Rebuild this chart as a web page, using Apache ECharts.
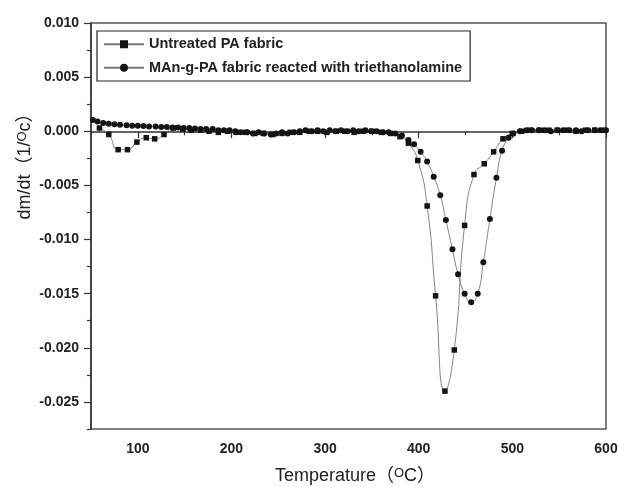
<!DOCTYPE html>
<html lang="en">
<head>
<meta charset="UTF-8">
<title>DTG curves</title>
<script src="https://cdn.jsdelivr.net/npm/echarts@6/dist/echarts.min.js"></script>
</head>
<body style="margin:0">
<div id="main" style="width:618px;height:487px;"></div>
<script>
// Untreated PA fabric (squares)
var untreatedT = [59, 69, 79, 89, 99, 109, 118, 128, 138, 148,
    157, 167, 176, 186, 196, 205, 215, 225, 234, 244,
    254, 263, 273, 283, 292, 302, 312, 321, 331, 341,
    350, 360, 370, 380, 389, 399, 409, 418, 428, 438,
    449, 459, 470, 480, 490, 500, 510, 519, 529, 539,
    548, 558, 568, 578, 588, 598];
var untreatedV = [0.0003, -0.0003, -0.0017, -0.0017, -0.0010, -0.0006, -0.0007, -0.0003, 0.0003, 0.0002,
    0.0001, 0.0001, 0.0000, -0.0001, 0.0000, -0.0001, -0.0001, -0.0002, -0.0002, -0.0003,
    -0.0002, -0.0001, -0.0001, 0.0000, 0.0000, -0.0001, 0.0000, 0.0000, -0.0001, 0.0000,
    0.0000, -0.0001, -0.0002, -0.0005, -0.0011, -0.0027, -0.0069, -0.0152, -0.0240, -0.0202,
    -0.0087, -0.0040, -0.0030, -0.0019, -0.0007, -0.0002, 0.0000, 0.0001, 0.0001, 0.0001,
    0.0001, 0.0001, 0.0000, 0.0001, 0.0001, 0.0001];

// MAn-g-PA fabric reacted with triethanolamine (circles)
var graftT = [52, 57, 63, 69, 75, 81, 88, 94, 100, 106,
    112, 119, 125, 131, 137, 143, 149, 155, 161, 167,
    173, 180, 186, 192, 198, 204, 210, 217, 223, 229,
    235, 242, 248, 254, 260, 267, 273, 279, 286, 292,
    298, 305, 311, 317, 324, 330, 336, 343, 349, 355,
    362, 368, 375, 382, 389, 395, 402, 409, 416, 423,
    429, 436, 442, 449, 456, 463, 469, 476, 483, 489,
    496, 501, 508, 515, 521, 528, 534, 541, 548, 554,
    561, 568, 574, 581, 588, 594, 600];
var graftV = [0.00105, 0.0009, 0.00076, 0.0007, 0.00064, 0.0006, 0.00055, 0.0005, 0.0005, 0.00048,
    0.00044, 0.00044, 0.0004, 0.0004, 0.00035, 0.00035, 0.0003, 0.0003, 0.00026, 0.0002,
    0.0002, 0.0002, 0.0001, 0.0001, 0.0001, 0.0000, -0.0001, -0.0001, -0.0002, -0.0001,
    -0.0002, -0.0003, -0.0002, -0.0001, -0.0002, -0.0001, 0.0000, 0.0001, 0.0000, 0.0001,
    0.0000, 0.0001, 0.0000, 0.0001, 0.0000, 0.0001, 0.0000, 0.0001, 0.0000, 0.0000,
    -0.0001, -0.0001, -0.0002, -0.0004, -0.0008, -0.0012, -0.0019, -0.0028, -0.0042, -0.0059,
    -0.0082, -0.0109, -0.0132, -0.0150, -0.0158, -0.0150, -0.0121, -0.0081, -0.0043, -0.0018,
    -0.0006, -0.0002, 0.0000, 0.0001, 0.0001, 0.0001, 0.0001, 0.0000, 0.0001, 0.0001,
    0.0001, 0.0001, 0.0000, 0.0001, 0.0001, 0.0001, 0.0001];

var seriesNames = ['Untreated PA fabric', 'MAn-g-PA fabric reacted with triethanolamine'];

// ticks
var xMajor = [100, 200, 300, 400, 500, 600];
var xMinor = [50, 150, 250, 350, 450, 550];
var yMajor = [-0.025, -0.020, -0.015, -0.010, -0.005, 0, 0.005, 0.010];
var yMinor = [-0.0275, -0.0225, -0.0175, -0.0125, -0.0075, -0.0025, 0.0025, 0.0075];

var xMin = 50, xMax = 600;
var yMin = -0.0275, yMax = 0.010;

var txt = '#222';
var font = 'Liberation Sans, Arial, Noto Sans CJK SC, sans-serif';

function pairs(t, v) {
    return t.map(function (x, i) { return [x, v[i]]; });
}

var myChart = echarts.init(document.getElementById('main'));

var option = {
    animation: false,
    backgroundColor: '#fff',
    grid: {
        left: 91, right: 12, top: 23, bottom: 58,
        outerBoundsMode: 'none',
        show: true, borderColor: '#555', borderWidth: 1.5
    },
    legend: {
        orient: 'vertical',
        left: 97, top: 31,
        padding: [6, 8, 6, 6],
        itemGap: 9,
        itemWidth: 40, itemHeight: 10,
        borderColor: '#222', borderWidth: 1.2,
        selectedMode: false,
        textStyle: { color: txt, fontFamily: font, fontWeight: 'bold', fontSize: 14.5 },
        data: seriesNames
    },
    xAxis: [{
        type: 'value', min: xMin, max: xMax, position: 'bottom',
        axisLine: { lineStyle: { color: '#333', width: 1.5 } },
        axisTick: { inside: false, length: 7, customValues: xMajor, lineStyle: { color: '#333', width: 1.2 } },
        axisLabel: { customValues: xMajor, margin: 13, color: txt, fontFamily: font, fontWeight: 'bold', fontSize: 14 },
        splitLine: { show: false }
    }, {
        type: 'value', min: xMin, max: xMax, position: 'bottom',
        axisLine: { show: false },
        axisTick: { length: 4, customValues: xMinor, lineStyle: { color: '#333', width: 1.2 } },
        axisLabel: { show: false },
        splitLine: { show: false }
    }],
    yAxis: [{
        type: 'value', min: yMin, max: yMax, position: 'left',
        axisLine: { show: true, lineStyle: { color: '#333', width: 1.5 } },
        axisTick: { show: true, length: 7, customValues: yMajor, lineStyle: { color: '#333', width: 1.2 } },
        axisLabel: {
            customValues: yMajor, margin: 12, color: txt, fontFamily: font, fontWeight: 'bold', fontSize: 14,
            formatter: function (v) { return v.toFixed(3); }
        },
        splitLine: { show: false }
    }, {
        type: 'value', min: yMin, max: yMax, position: 'left',
        axisLine: { show: false },
        axisTick: { show: true, length: 4, customValues: yMinor, lineStyle: { color: '#333', width: 1.2 } },
        axisLabel: { show: false },
        splitLine: { show: false }
    }],
    graphic: [{
        type: 'text',
        x: 355, y: 476,
        style: {
            text: '{a|Temperature（}{s|O}{a|C）}',
            align: 'center', verticalAlign: 'middle',
            rich: {
                a: { fontSize: 18, fontFamily: font, fill: txt, color: txt },
                s: { fontSize: 13, fontFamily: font, fill: txt, color: txt, verticalAlign: 'top' }
            }
        }
    }, {
        type: 'text',
        x: 25, y: 162,
        rotation: Math.PI / 2,
        style: {
            text: '{a|dm/dt（1/}{s|O}{c|c）}',
            align: 'center', verticalAlign: 'middle',
            rich: {
                a: { fontSize: 18, fontFamily: font, fill: txt, color: txt },
                s: { fontSize: 13, fontFamily: font, fill: txt, color: txt, verticalAlign: 'top' },
                c: { fontSize: 18, fontFamily: font, fill: txt, color: txt }
            }
        }
    }],
    series: [{
        name: seriesNames[0],
        type: 'line',
        xAxisIndex: 0, yAxisIndex: 0,
        smooth: 0.55,
        symbol: 'rect', symbolSize: 5.5,
        itemStyle: { color: '#141414' },
        lineStyle: { color: '#777', width: 0.9 },
        data: pairs(untreatedT, untreatedV)
    }, {
        name: seriesNames[1],
        type: 'line',
        xAxisIndex: 0, yAxisIndex: 0,
        smooth: 0.55,
        symbol: 'circle', symbolSize: 6,
        itemStyle: { color: '#141414' },
        lineStyle: { color: '#777', width: 0.9 },
        data: pairs(graftT, graftV)
    }]
};
myChart.setOption(option);
</script>
</body>
</html>
